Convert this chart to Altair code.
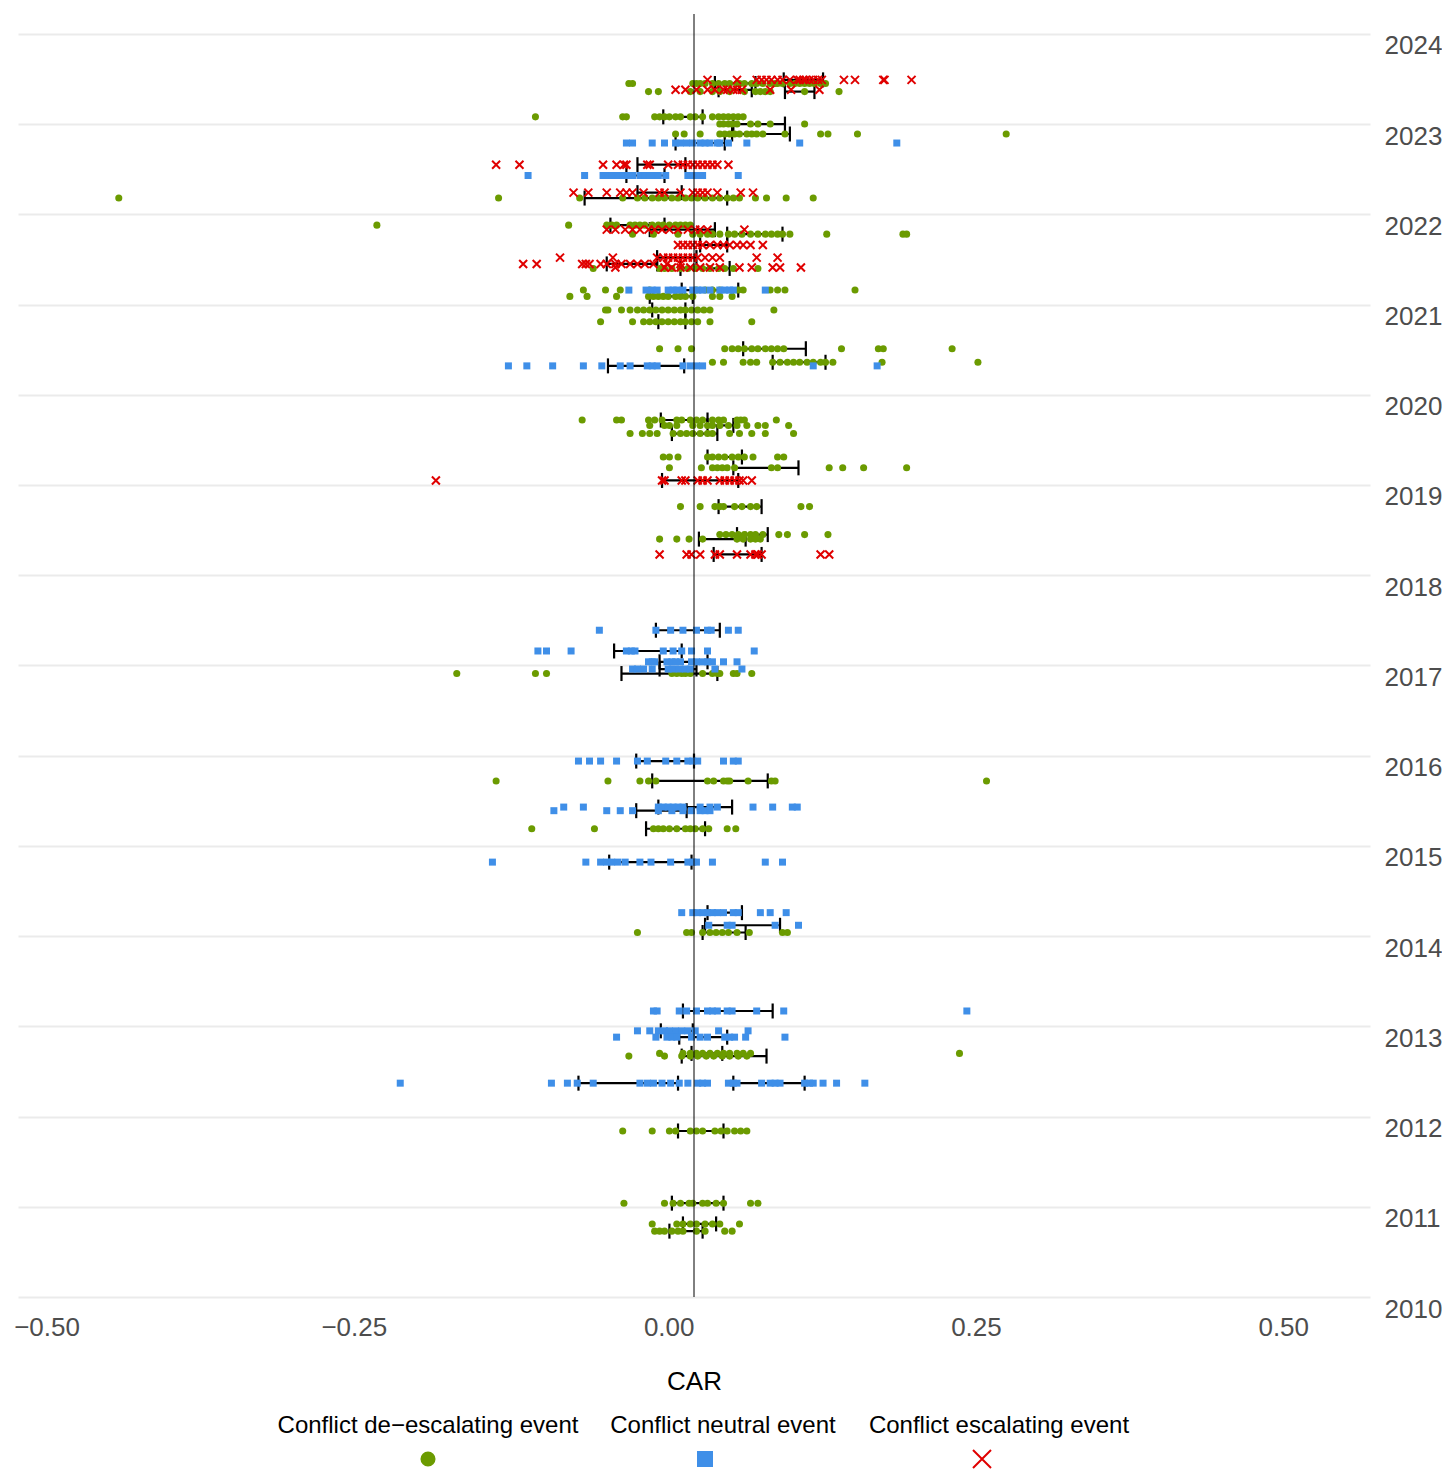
import altair as alt
import pandas as pd

TYPE_LABELS = ["Conflict de\u2212escalating event", "Conflict neutral event", "Conflict escalating event"]
TYPE_COLORS = ["#6b9b00", "#3f8fe8", "#e00000"]
X_TICKS = [-0.5, -0.25, 0.0, 0.25, 0.5]
Y_TICKS = list(range(2010, 2025))

# ---------------- Conflict de-escalating events ----------------
deesc_dates = [2023.45, 2023.36, 2023.08, 2023.00, 2022.89, 2022.18, 2021.88, 2021.78, 2021.40,
               2021.16, 2021.09, 2020.94, 2020.81, 2020.51, 2020.36, 2019.72, 2019.66, 2019.57,
               2019.31, 2019.19, 2018.76, 2018.45, 2018.40, 2016.91, 2015.72, 2015.19, 2014.04,
               2012.70, 2012.67, 2011.84, 2011.04, 2010.81, 2010.73]
deesc_cars = [
    [-0.053, -0.050, -0.001, 0.002, 0.005, 0.009, 0.015, 0.020, 0.025, 0.029, 0.035, 0.037, 0.041, 0.047, 0.051, 0.056, 0.062, 0.066, 0.068, 0.072, 0.078, 0.082, 0.086, 0.090, 0.094, 0.098, 0.103, 0.107],
    [-0.037, -0.029, -0.003, 0.005, 0.015, 0.021, 0.029, 0.041, 0.050, 0.054, 0.058, 0.062, 0.090, 0.118],
    [-0.129, -0.058, -0.055, -0.032, -0.028, -0.024, -0.020, -0.015, -0.011, -0.003, 0.001, 0.007, 0.015, 0.020, 0.024, 0.028, 0.032, 0.036, 0.040],
    [0.021, 0.024, 0.028, 0.031, 0.035, 0.046, 0.052, 0.062, 0.090],
    [-0.015, -0.008, 0.005, 0.021, 0.025, 0.029, 0.033, 0.037, 0.043, 0.047, 0.051, 0.056, 0.074, 0.103, 0.109, 0.133, 0.254],
    [-0.468, -0.159, -0.093, -0.058, -0.046, -0.040, -0.034, -0.029, -0.024, -0.018, -0.013, -0.007, -0.002, 0.003, 0.009, 0.015, 0.021, 0.027, 0.032, 0.037, 0.050, 0.059, 0.075, 0.097],
    [-0.258, -0.102, -0.071, -0.067, -0.063, -0.052, -0.048, -0.044, -0.040, -0.034, -0.029, -0.025, -0.020, -0.015, -0.011, -0.007, -0.003],
    [-0.050, -0.033, -0.013, -0.001, 0.005, 0.011, 0.015, 0.021, 0.028, 0.033, 0.039, 0.046, 0.052, 0.058, 0.063, 0.068, 0.072, 0.078, 0.108, 0.170, 0.173],
    [-0.082, -0.028, -0.024, -0.018, -0.011, -0.005, 0.001, 0.007, 0.013, 0.020, 0.025, 0.032, 0.052],
    [-0.090, -0.072, -0.060, -0.036, 0.002, 0.009, 0.015, 0.021, 0.036, 0.040, 0.062, 0.068, 0.074, 0.131],
    [-0.101, -0.087, -0.063, -0.037, -0.033, -0.029, -0.025, -0.021, -0.015, -0.011, -0.007, -0.001, 0.015, 0.021, 0.031],
    [-0.072, -0.070, -0.059, -0.052, -0.046, -0.041, -0.036, -0.031, -0.026, -0.021, -0.016, -0.011, -0.007, -0.002, 0.003, 0.008, 0.013, 0.065],
    [-0.076, -0.050, -0.041, -0.036, -0.031, -0.026, -0.021, -0.016, -0.011, -0.007, -0.002, 0.003, 0.013, 0.047],
    [-0.028, -0.013, -0.002, 0.025, 0.031, 0.036, 0.041, 0.047, 0.052, 0.058, 0.063, 0.068, 0.073, 0.120, 0.150, 0.154, 0.210],
    [0.015, 0.024, 0.040, 0.046, 0.051, 0.064, 0.070, 0.076, 0.081, 0.086, 0.092, 0.097, 0.103, 0.107, 0.113, 0.153, 0.231],
    [-0.091, -0.063, -0.059, -0.037, -0.032, -0.026, -0.014, -0.010, -0.003, 0.002, 0.007, 0.015, 0.020, 0.024, 0.035, 0.038, 0.041, 0.067],
    [-0.036, -0.024, -0.020, -0.014, -0.001, 0.005, 0.011, 0.015, 0.021, 0.028, 0.035, 0.043, 0.052, 0.058, 0.077],
    [-0.052, -0.042, -0.036, -0.030, -0.017, -0.011, -0.006, -0.001, 0.005, 0.011, 0.015, 0.029, 0.037, 0.047, 0.058, 0.081],
    [-0.025, -0.020, -0.013, 0.011, 0.015, 0.020, 0.025, 0.031, 0.036, 0.041, 0.048, 0.068, 0.073],
    [-0.020, 0.006, 0.015, 0.019, 0.023, 0.027, 0.033, 0.063, 0.068, 0.110, 0.121, 0.138, 0.173],
    [-0.011, 0.005, 0.017, 0.021, 0.024, 0.033, 0.039, 0.046, 0.051, 0.087, 0.094],
    [0.021, 0.026, 0.031, 0.036, 0.041, 0.046, 0.050, 0.056, 0.069, 0.076, 0.090, 0.109],
    [-0.028, -0.014, -0.004, 0.007, 0.035, 0.040, 0.046, 0.050, 0.054],
    [-0.193, -0.129, -0.120, -0.018, -0.014, -0.010, -0.007, -0.003, 0.007, 0.015, 0.019, 0.021, 0.032, 0.035, 0.047],
    [-0.161, -0.070, -0.044, -0.037, -0.031, 0.011, 0.016, 0.024, 0.027, 0.029, 0.044, 0.063, 0.066, 0.238],
    [-0.132, -0.081, -0.033, -0.029, -0.025, -0.020, -0.014, -0.007, -0.003, 0.001, 0.007, 0.012, 0.027, 0.034],
    [-0.046, -0.006, -0.002, 0.007, 0.013, 0.018, 0.023, 0.028, 0.035, 0.045, 0.072, 0.076],
    [-0.028, -0.009, -0.003, 0.002, 0.007, 0.013, 0.019, 0.024, 0.029, 0.035, 0.040, 0.046, 0.216],
    [-0.053, -0.024, -0.010, -0.003, 0.003, 0.010, 0.016, 0.023, 0.029, 0.036, 0.043],
    [-0.058, -0.034, -0.020, -0.015, -0.003, 0.002, 0.007, 0.017, 0.022, 0.027, 0.033, 0.038, 0.043],
    [-0.057, -0.024, -0.017, -0.011, -0.004, -0.001, 0.007, 0.011, 0.018, 0.024, 0.046, 0.052],
    [-0.034, -0.014, -0.009, -0.003, 0.002, 0.009, 0.015, 0.021, 0.037],
    [-0.032, -0.028, -0.024, -0.018, -0.013, -0.009, 0.002, 0.009, 0.025, 0.031],
]
deesc_lo = [0.017, 0.074, -0.025, 0.032, 0.031, -0.089, -0.068, 0.027, -0.011, None, -0.036, -0.034,
            -0.029, 0.040, 0.064, -0.027, 0.011, -0.018, 0.011, 0.032, 0.020, 0.035, 0.004, -0.059,
            -0.034, -0.039, 0.007, -0.002, -0.010, -0.013, -0.018, -0.009, -0.020]
deesc_hi = [0.050, 0.098, 0.007, 0.074, 0.078, 0.027, -0.024, 0.072, 0.029, None, -0.001, -0.007,
            -0.007, 0.091, 0.107, 0.011, 0.032, 0.019, 0.039, 0.085, 0.055, 0.060, 0.042, 0.019,
            0.060, 0.009, 0.042, 0.023, 0.059, 0.024, 0.024, 0.018, 0.007]

# ---------------- Conflict neutral events ----------------
neutral_dates = [2022.79, 2022.43, 2021.16, 2020.32, 2017.39, 2017.16, 2017.04, 2016.96, 2015.94,
                 2015.43, 2015.39, 2014.82, 2014.26, 2014.12, 2013.17, 2012.95, 2012.88, 2012.37,
                 2012.37]
neutral_cars = [
    [-0.055, -0.050, -0.034, -0.024, -0.015, -0.011, -0.006, -0.001, 0.005, 0.009, 0.013, 0.019, 0.021, 0.028, 0.043, 0.086, 0.165],
    [-0.135, -0.089, -0.074, -0.070, -0.067, -0.062, -0.058, -0.054, -0.050, -0.044, -0.040, -0.036, -0.032, -0.029, -0.023, -0.005, -0.001, 0.003, 0.007, 0.036],
    [-0.053, -0.039, -0.034, -0.030, -0.021, -0.017, -0.014, -0.009, -0.001, 0.003, 0.007, 0.013, 0.021, 0.025, 0.029, 0.032, 0.058],
    [-0.151, -0.136, -0.115, -0.090, -0.075, -0.060, -0.052, -0.038, -0.034, -0.030, -0.009, -0.003, 0.002, 0.007, 0.097, 0.149],
    [-0.077, -0.031, -0.019, -0.009, 0.002, 0.011, 0.014, 0.028, 0.036],
    [-0.127, -0.120, -0.100, -0.055, -0.051, -0.048, -0.025, -0.017, -0.010, -0.002, 0.011, 0.049],
    [-0.037, -0.034, -0.032, -0.022, -0.018, -0.015, -0.011, -0.002, 0.002, 0.007, 0.011, 0.015, 0.024, 0.035],
    [-0.050, -0.046, -0.041, -0.034, -0.021, -0.017, -0.012, -0.007, -0.003, 0.017, 0.039],
    [-0.094, -0.085, -0.076, -0.063, -0.046, -0.038, -0.023, -0.014, -0.005, -0.001, 0.003, 0.024, 0.032, 0.036],
    [-0.106, -0.090, -0.029, -0.025, -0.021, -0.017, -0.013, -0.009, 0.005, 0.013, 0.019, 0.048, 0.064, 0.080, 0.084],
    [-0.114, -0.071, -0.060, -0.050, -0.029, -0.018, -0.009, -0.002, 0.005, 0.009, 0.013],
    [-0.164, -0.088, -0.076, -0.071, -0.067, -0.062, -0.056, -0.044, -0.035, -0.019, -0.005, -0.001, 0.002, 0.015, 0.058, 0.072],
    [-0.010, -0.001, 0.003, 0.007, 0.011, 0.015, 0.019, 0.024, 0.032, 0.036, 0.054, 0.062, 0.075],
    [0.012, 0.027, 0.031, 0.066, 0.085],
    [-0.033, -0.030, -0.012, -0.006, 0.002, 0.011, 0.015, 0.019, 0.027, 0.031, 0.051, 0.073, 0.222],
    [-0.046, -0.036, -0.029, -0.024, -0.020, -0.015, -0.010, -0.005, 0.001, 0.020, 0.044],
    [-0.063, -0.031, -0.022, -0.018, -0.014, -0.002, 0.005, 0.011, 0.025, 0.029, 0.033, 0.042, 0.074],
    [-0.239, -0.116, -0.103, -0.095, -0.082, -0.044, -0.038, -0.033, -0.026, -0.019, -0.012, -0.005],
    [0.003, 0.007, 0.011, 0.028, 0.032, 0.035, 0.055, 0.062, 0.066, 0.070, 0.090, 0.094, 0.097, 0.105, 0.116, 0.139],
]
neutral_lo = [-0.015, -0.055, -0.010, -0.070, -0.031, -0.065, -0.028, -0.028, -0.047, -0.029, -0.047,
              -0.069, 0.011, 0.009, -0.009, -0.027, -0.012, -0.094, 0.032]
neutral_hi = [0.025, -0.024, 0.036, -0.008, 0.021, -0.010, 0.011, 0.002, 0.000, 0.031, -0.006,
              -0.002, 0.039, 0.070, 0.064, -0.001, 0.027, -0.013, 0.090]

# ---------------- Conflict escalating events ----------------
esc_dates = [2023.49, 2023.38, 2022.55, 2022.24, 2021.83, 2021.66, 2021.52, 2021.45, 2021.41,
             2019.05, 2018.23]
esc_cars = [
    [0.011, 0.035, 0.051, 0.055, 0.059, 0.063, 0.068, 0.072, 0.078, 0.084, 0.086, 0.089, 0.091, 0.094, 0.097, 0.101, 0.104, 0.122, 0.131, 0.154, 0.155, 0.177],
    [-0.015, -0.007, 0.002, 0.011, 0.017, 0.024, 0.027, 0.032, 0.035, 0.039, 0.062, 0.079, 0.102],
    [-0.161, -0.142, -0.074, -0.063, -0.057, -0.055, -0.038, -0.036, -0.021, -0.013, -0.009, -0.005, -0.001, 0.003, 0.007, 0.011, 0.015, 0.019, 0.028],
    [-0.098, -0.086, -0.071, -0.060, -0.055, -0.050, -0.041, -0.028, -0.024, -0.011, -0.001, 0.003, 0.007, 0.011, 0.019, 0.038, 0.048],
    [-0.071, -0.064, -0.056, -0.050, -0.044, -0.037, -0.032, -0.026, -0.020, -0.013, -0.005, 0.001, 0.005, 0.011, 0.041],
    [-0.013, -0.009, -0.005, -0.001, 0.003, 0.007, 0.013, 0.019, 0.024, 0.029, 0.035, 0.040, 0.046, 0.056],
    [-0.109, -0.066, -0.030, -0.025, -0.021, -0.017, -0.013, -0.009, -0.005, -0.001, 0.003, 0.009, 0.015, 0.021, 0.051, 0.068],
    [-0.139, -0.128, -0.091, -0.088, -0.085, -0.076, -0.071, -0.064, -0.059, -0.052, -0.046, -0.040, -0.033, -0.022, -0.011],
    [-0.064, -0.024, -0.018, -0.011, -0.003, 0.005, 0.013, 0.021, 0.037, 0.047, 0.064, 0.070, 0.087],
    [-0.210, -0.026, -0.024, -0.010, -0.007, 0.003, 0.007, 0.011, 0.021, 0.025, 0.029, 0.033, 0.037, 0.040, 0.047],
    [-0.028, -0.006, -0.002, 0.005, 0.017, 0.021, 0.035, 0.046, 0.050, 0.052, 0.055, 0.103, 0.110],
]
esc_lo = [0.073, 0.020, -0.046, -0.046, -0.036, 0.005, -0.030, -0.071, None, -0.026, 0.016]
esc_hi = [0.105, 0.047, -0.007, -0.010, 0.017, 0.027, 0.002, -0.030, None, 0.036, 0.055]


def build(label, dates, cars, lo, hi):
    pts, bars = [], []
    for d, vals, l, h in zip(dates, cars, lo, hi):
        for v in vals:
            pts.append({"type": label, "date": d, "car": v})
        if l is not None:
            bars.append({"type": label, "date": d, "lo": l, "hi": h})
    return pts, bars


p0, b0 = build(TYPE_LABELS[0], deesc_dates, deesc_cars, deesc_lo, deesc_hi)
p1, b1 = build(TYPE_LABELS[1], neutral_dates, neutral_cars, neutral_lo, neutral_hi)
p2, b2 = build(TYPE_LABELS[2], esc_dates, esc_cars, esc_lo, esc_hi)
bars_df = pd.DataFrame(b0 + b1 + b2)

FONT = "Liberation Sans"
xscale = alt.Scale(domain=[-0.55, 0.55], nice=False, zero=False)
yscale = alt.Scale(domain=[2010, 2024.22], nice=False, zero=False)
xaxis = alt.Axis(values=X_TICKS, format=".2f", labelAlign="right", labelFlush=False,
                 labelFontSize=26, labelColor="#4d4d4d", labelFont=FONT, labelPadding=17,
                 ticks=False, domain=False, grid=False, title="CAR", titleFontSize=26,
                 titleFont=FONT, titleFontWeight="normal", titleColor="black", titlePadding=28)
yaxis = alt.Axis(orient="right", values=Y_TICKS, format="d", labelFontSize=26,
                 labelColor="#4d4d4d", labelFont=FONT, labelBaseline="top", labelAlign="left",
                 labelPadding=14, ticks=False, domain=False, grid=True, gridColor="#ebebeb",
                 gridWidth=2, title=None, labelOverlap=False, labelOffset=-1)


def X(field):
    return alt.X(field, type="quantitative", scale=xscale, axis=xaxis)


def Y(field):
    return alt.Y(field, type="quantitative", scale=yscale, axis=yaxis)


bar_rules = alt.Chart(bars_df).mark_rule(color="black", strokeWidth=2.2).encode(
    x=X("lo"), x2="hi", y=Y("date"))
bar_ticks = alt.Chart(bars_df).transform_fold(["lo", "hi"], as_=["end", "xv"]).mark_tick(
    orient="vertical", size=15, thickness=2.2, color="black", opacity=1).encode(
    x=X("xv"), y=Y("date"))

XPATH = "M-1,-1L1,1M-1,1L1,-1"
pts_green = alt.Chart(pd.DataFrame(p0)).mark_point(
    shape="circle", filled=True, size=50, color=TYPE_COLORS[0], opacity=1).encode(
    x=X("car"), y=Y("date"))
pts_blue = alt.Chart(pd.DataFrame(p1)).mark_point(
    shape="square", filled=True, size=49, color=TYPE_COLORS[1], opacity=1).encode(
    x=X("car"), y=Y("date"))
pts_red = alt.Chart(pd.DataFrame(p2)).mark_point(
    shape=XPATH, filled=False, size=64, strokeWidth=2, color=TYPE_COLORS[2], opacity=1).encode(
    x=X("car"), y=Y("date"))

zero_line = alt.Chart(pd.DataFrame({"car": [0.0]})).mark_rule(color="black", strokeWidth=1).encode(
    x=X("car"))

main = alt.layer(bar_rules, bar_ticks, pts_green, pts_blue, pts_red, zero_line).properties(
    width=1352, height=1283)

# ---------------- legend ----------------
legend_df = pd.DataFrame({"type": TYPE_LABELS})
lx = alt.X("type:N", scale=alt.Scale(type="point", domain=TYPE_LABELS, range=[410, 964], padding=0),
           axis=None)
LABEL_DX = [0, 18, 17]
leg_texts = [
    alt.Chart(legend_df).transform_filter(alt.datum.type == TYPE_LABELS[i]).mark_text(
        fontSize=24, font=FONT, color="black", baseline="middle", align="center", dx=LABEL_DX[i]
    ).encode(x=lx, y=alt.value(9), text="type:N")
    for i in range(3)
]
leg_green = alt.Chart(legend_df).transform_filter(alt.datum.type == TYPE_LABELS[0]).mark_point(
    shape="circle", filled=True, size=227, color=TYPE_COLORS[0], opacity=1).encode(x=lx, y=alt.value(42))
leg_blue = alt.Chart(legend_df).transform_filter(alt.datum.type == TYPE_LABELS[1]).mark_point(
    shape="square", filled=True, size=256, color=TYPE_COLORS[1], opacity=1).encode(x=lx, y=alt.value(42))
leg_red = alt.Chart(legend_df).transform_filter(alt.datum.type == TYPE_LABELS[2]).mark_point(
    shape=XPATH, filled=False, size=324, strokeWidth=2, color=TYPE_COLORS[2], opacity=1).encode(
    x=lx, y=alt.value(42))
legend = alt.layer(*leg_texts, leg_green, leg_blue, leg_red).properties(width=1352, height=55)

chart = alt.vconcat(main, legend, spacing=20).properties(
    padding={"left": 5, "top": 5, "right": 0, "bottom": 4}, background="white"
).configure_view(stroke=None)

chart.save("out.html", embed_options={"renderer": "svg", "actions": False})
